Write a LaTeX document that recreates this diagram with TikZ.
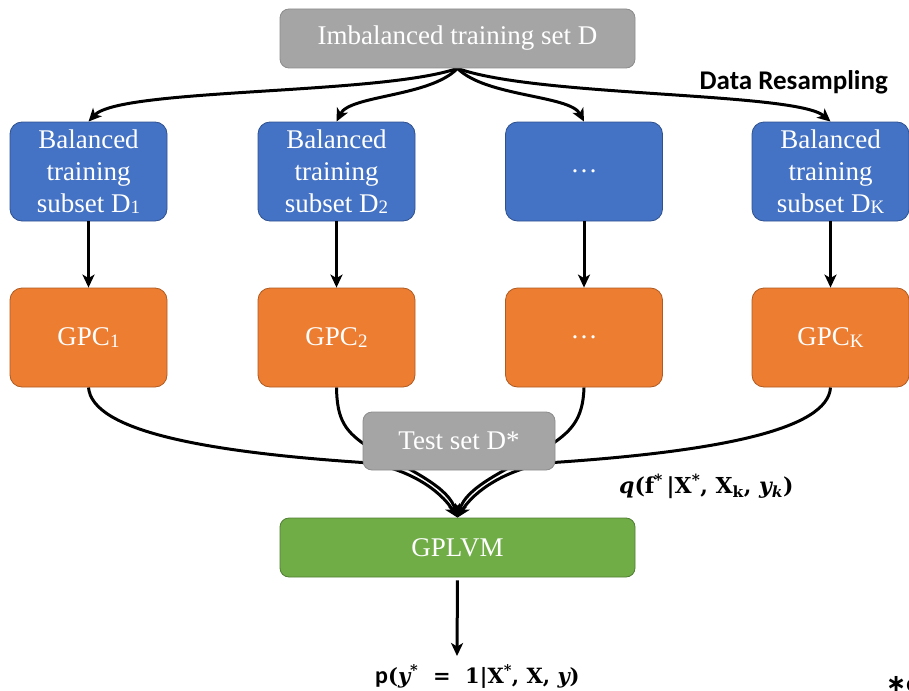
\documentclass[tikz,border=0pt]{standalone}
\usepackage{fontspec}
\setmainfont{Liberation Serif}
\newfontfamily\calib{Carlito}
\newfontfamily\dejavu{DejaVu Sans}
\newfontfamily\dvs{DejaVu Serif}
\usetikzlibrary{arrows.meta,backgrounds}
\definecolor{boxblue}{HTML}{4472C4}
\definecolor{boxblueline}{HTML}{2F528F}
\definecolor{boxorange}{HTML}{ED7D31}
\definecolor{boxorangeline}{HTML}{AE5A21}
\definecolor{boxgreen}{HTML}{70AD47}
\definecolor{boxgreenline}{HTML}{507E32}
\definecolor{boxgray}{HTML}{A5A5A5}
\definecolor{boxgrayline}{HTML}{8C8C8C}
\newcommand{\smallidx}[1]{\raisebox{-1.5pt}{\fontsize{19}{19}\selectfont #1}}
\begin{document}
\begin{tikzpicture}[x=1pt,y=-1pt,
  box/.style={draw, rounded corners=12pt, line width=0.8pt, text=white, align=center, inner sep=0pt,
              font=\fontsize{27}{32}\selectfont},
  graybox/.style={box, fill=boxgray, draw=boxgrayline, rounded corners=9pt},
  bluebox/.style={box, fill=boxblue, draw=boxblueline, minimum width=157pt, minimum height=99pt},
  orangebox/.style={box, fill=boxorange, draw=boxorangeline, minimum width=157pt, minimum height=99pt},
  greenbox/.style={box, fill=boxgreen, draw=boxgreenline, rounded corners=9pt},
  conn/.style={line width=3pt, -{Stealth[length=13pt,width=12pt,inset=3.5pt]}},
  mathlbl/.style={inner sep=0pt, font=\dvs\bfseries\fontsize{21}{25}\selectfont}
]
\useasboundingbox (0,0) rectangle (909,690);

% nodes
\node[graybox, minimum width=355pt, minimum height=59pt] (top) at (457.5,38.5) {Imbalanced training set D};
\node[inner sep=0pt, font=\calib\bfseries\fontsize{27}{30}\selectfont, anchor=base east] (resamp) at (888,90) {Data Resampling};

\node[bluebox] (b1) at (88.5,171.5) {Balanced\\training\\subset D\smallidx{1}};
\node[bluebox] (b2) at (336.5,171.5) {Balanced\\training\\subset D\smallidx{2}};
\node[bluebox] (b3) at (584,171.5) {\dots};
\node[bluebox] (b4) at (830.5,171.5) {Balanced\\training\\subset D\smallidx{K}};

\node[orangebox] (o1) at (88.5,337.5) {GPC\smallidx{1}};
\node[orangebox] (o2) at (336.5,337.5) {GPC\smallidx{2}};
\node[orangebox] (o3) at (584,337.5) {\dots};
\node[orangebox] (o4) at (830.5,337.5) {GPC\smallidx{K}};

\node[graybox, minimum width=192pt, minimum height=58pt] (test) at (459,441) {Test set D*};
\node[greenbox, minimum width=355pt, minimum height=59pt] (gp) at (457.5,547.5) {GPLVM};

\node[mathlbl, anchor=base west, font=\dvs\bfseries\fontsize{22}{25}\selectfont] (qlbl) at (619,493) {\itshape q\upshape(f\textsuperscript{*}\,|X\textsuperscript{*}, X\textsubscript{k}, \itshape y\textsubscript{k}\upshape)};
\node[mathlbl, anchor=base west] (plbl) at (375,683) {{\calib\fontsize{24}{25}\selectfont p}(\itshape y\upshape\textsuperscript{*}\ \ =\ \ 1|X\textsuperscript{*}, X, \itshape y\upshape)};
\node[inner sep=0pt, anchor=base west, font=\fontsize{24}{26}\selectfont] (note) at (886,691) {{\dejavu\bfseries ∗}{\calib\bfseries c}};

% connectors
\begin{pgfonlayer}{background}
\draw[conn] (top.south) .. controls (380,95) and (120,88) .. (b1.north);
\draw[conn] (top.south) .. controls (430,97) and (350,95) .. (b2.north);
\draw[conn] (top.south) .. controls (486,97) and (570,95) .. (b3.north);
\draw[conn] (top.south) .. controls (536,97) and (796,92) .. (b4.north);

\draw[conn] (o1.south) .. controls (92,430) and (200,452) .. (370,463) .. controls (410,470) and (440,490) .. (gp.north);
\draw[conn] (o2.south) .. controls (337,420) and (345,432) .. (370,448) .. controls (415,472) and (449,488) .. (gp.north);
\draw[conn] (o3.south) .. controls (583,420) and (571,432) .. (546,448) .. controls (501,472) and (466,488) .. (gp.north);
\draw[conn] (o4.south) .. controls (828,430) and (716,452) .. (546,463) .. controls (506,470) and (475,490) .. (gp.north);
\end{pgfonlayer}

\draw[conn] (b1.south) -- (o1.north);
\draw[conn] (b2.south) -- (o2.north);
\draw[conn] (b3.south) -- (o3.north);
\draw[conn] (b4.south) -- (o4.north);

\coordinate (ptip) at (457,656);
\draw[conn, shorten <=3pt] (gp.south) -- (ptip);
\end{tikzpicture}
\end{document}
